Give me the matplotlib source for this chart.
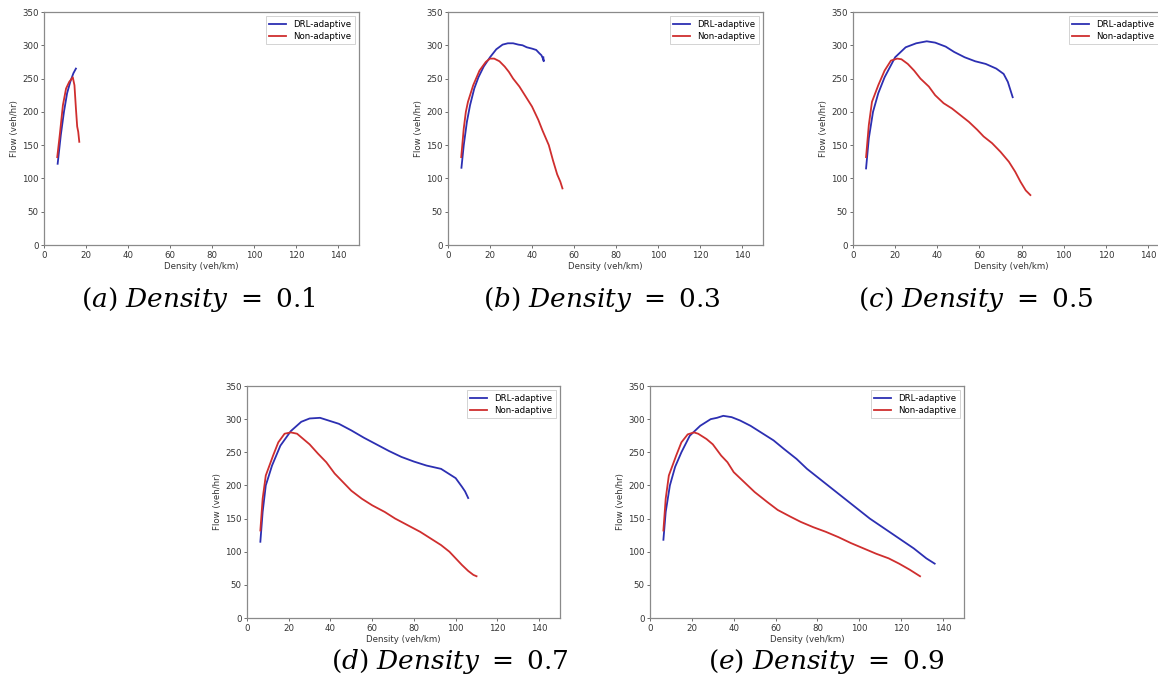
import matplotlib
matplotlib.use("Agg")
import matplotlib.pyplot as plt

plt.rcParams['mathtext.fontset'] = 'dejavuserif'

# ---- data ----
a_drl_x = [6.5, 8.0, 9.5, 11.0, 12.5, 14.0, 15.2]
a_drl_y = [122, 165, 200, 228, 245, 258, 265]
a_non_x = [6.3, 7.5, 9.0, 10.5, 12.0, 13.7, 14.5, 15.2, 15.8, 16.3, 16.8]
a_non_y = [132, 165, 210, 235, 245, 252, 240, 205, 178, 170, 155]

b_drl_x = [6.4, 7.5, 9.0, 10.5, 12.5, 14.5, 17.0, 20.0, 23.0, 26.0, 28.5, 31.0, 33.5, 35.5, 37.5, 40.0, 42.0, 43.5, 44.5, 45.2, 45.6, 45.4]
b_drl_y = [116, 150, 185, 210, 235, 252, 268, 282, 294, 301, 303, 303, 301, 300, 297, 295, 293, 288, 285, 280, 276, 282]
b_non_x = [6.3, 7.5, 8.5, 9.5, 12.0, 15.0, 18.0, 20.0, 22.0, 24.5, 27.0, 29.0, 31.0, 34.0, 37.0, 40.0, 43.0, 45.0, 48.0, 50.0, 52.0, 53.5, 54.5]
b_non_y = [132, 175, 200, 215, 240, 262, 275, 280, 280, 276, 268, 260, 250, 238, 223, 208, 188, 172, 150, 127, 106, 95, 85]

c_drl_x = [6.2, 7.5, 9.5, 12.0, 15.0, 20.0, 25.0, 30.0, 35.0, 39.0, 44.0, 48.0, 53.0, 58.0, 63.0, 68.0, 71.5, 73.5, 75.0, 75.8]
c_drl_y = [115, 160, 200, 228, 252, 282, 297, 303, 306, 304, 298, 290, 282, 276, 272, 265, 257, 245, 230, 222]
c_non_x = [6.2, 7.5, 9.0, 12.0, 15.0, 18.0, 21.0, 23.0, 26.0, 29.0, 32.0, 36.0, 39.0, 43.0, 47.0, 51.0, 55.0, 59.0, 62.0, 66.0, 70.0, 74.0, 77.0, 79.5, 82.0, 84.2]
c_non_y = [132, 180, 215, 240, 262, 277, 280, 279, 272, 262, 250, 238, 225, 213, 205, 195, 185, 173, 163, 153, 140, 125, 110, 95, 82, 75]

d_drl_x = [6.4, 7.5, 9.0, 12.0, 16.0, 21.0, 26.0, 30.0, 35.0, 39.0, 44.0, 50.0, 56.0, 62.0, 68.0, 74.0, 80.0, 86.0, 93.0, 98.0, 100.0, 103.0, 104.5, 106.0]
d_drl_y = [115, 160, 200, 230, 260, 282, 296, 301, 302, 298, 293, 283, 272, 262, 252, 243, 236, 230, 225, 215, 211, 198, 191, 181]
d_non_x = [6.4, 7.5, 9.0, 12.5, 15.0, 18.0, 21.0, 24.0, 27.0, 30.0, 34.0, 38.0, 42.0, 46.0, 50.0, 55.0, 60.0, 66.0, 71.0, 77.0, 83.0, 88.0, 93.0, 97.0, 100.0, 103.0, 106.0, 108.5, 110.0]
d_non_y = [132, 180, 215, 245, 265, 278, 280, 278, 270, 262, 248, 235, 218, 205, 192, 180, 170, 160, 150, 140, 130, 120, 110, 100, 90, 80, 71, 65, 63]

e_drl_x = [6.4, 7.5, 9.5, 12.0, 15.0, 19.0, 24.0, 29.0, 32.0, 35.0, 39.0, 43.0, 48.0, 53.0, 59.0, 64.0, 70.0, 75.0, 81.0, 87.0, 93.0, 99.0, 105.0, 112.0, 119.0, 126.0, 132.0, 136.0]
e_drl_y = [118, 160, 200, 228, 250, 275, 290, 300, 302, 305, 303, 298, 290, 280, 268, 255, 240, 225, 210, 195, 180, 165, 150, 135, 120, 105, 90, 82]
e_non_x = [6.4, 7.5, 9.0, 12.5, 15.0, 18.0, 21.0, 23.0, 27.0, 30.0, 34.0, 37.0, 40.0, 45.0, 50.0, 56.0, 61.0, 67.0, 72.0, 78.0, 84.0, 90.0, 96.0, 102.0, 108.0, 114.0, 119.0, 124.0, 129.0]
e_non_y = [132, 180, 215, 245, 265, 277, 280, 278, 270, 262, 245, 235, 220, 205, 190, 175, 163, 153, 145, 137, 130, 122, 113, 105, 97, 90, 82, 73, 63]

captions = [r"$(a)\ Density\ =\ 0.1$", r"$(b)\ Density\ =\ 0.3$", r"$(c)\ Density\ =\ 0.5$",
            r"$(d)\ Density\ =\ 0.7$", r"$(e)\ Density\ =\ 0.9$"]
series = [(a_drl_x, a_drl_y, a_non_x, a_non_y),
          (b_drl_x, b_drl_y, b_non_x, b_non_y),
          (c_drl_x, c_drl_y, c_non_x, c_non_y),
          (d_drl_x, d_drl_y, d_non_x, d_non_y),
          (e_drl_x, e_drl_y, e_non_x, e_non_y)]

W, H = 1158, 692
fig = plt.figure(figsize=(W / 100, H / 100), dpi=100)

# pixel boxes: left, right, top, bottom
boxes = [(44, 359, 12, 245), (448, 763, 12, 245), (853, 1169, 12, 245),
         (247, 560, 386, 618), (650, 964, 386, 618)]
cap_pos = [(198, 300), (602, 300), (976, 300), (450, 662), (826, 662)]

BLUE = '#2c2fb2'
RED = '#cf2e2e'
FS = 6.2

for i, ((l, r, t, b), (dx, dy, nx, ny), cap, (cx, cy)) in enumerate(zip(boxes, series, captions, cap_pos)):
    ax = fig.add_axes([l / W, 1 - b / H, (r - l) / W, (b - t) / H])
    ax.plot(dx, dy, color=BLUE, lw=1.3, label='DRL-adaptive')
    ax.plot(nx, ny, color=RED, lw=1.3, label='Non-adaptive')
    ax.set_xlim(0, 150)
    ax.set_ylim(0, 350)
    ax.set_xticks([0, 20, 40, 60, 80, 100, 120, 140])
    ax.set_yticks([0, 50, 100, 150, 200, 250, 300, 350])
    ax.tick_params(labelsize=FS, length=2.5, width=0.6, colors='#555555', labelcolor='#333333', pad=1.5)
    for s in ax.spines.values():
        s.set_color('#8a8a8a')
        s.set_linewidth(0.9)
    ax.set_xlabel('Density (veh/km)', fontsize=FS, color='#333333', labelpad=1.5)
    ax.set_ylabel('Flow (veh/hr)', fontsize=FS, color='#333333', labelpad=2)
    anchor = (1.0, 1.0) if i != 2 else (1.0 - 7.0 / (r - l), 1.0)
    leg = ax.legend(loc='upper right', bbox_to_anchor=anchor, fontsize=FS, handlelength=2.0,
                    borderpad=0.4, labelspacing=0.35, framealpha=1.0, fancybox=False)
    leg.get_frame().set_edgecolor('#cccccc')
    leg.get_frame().set_linewidth(0.6)
    fig.text(cx / W, 1 - cy / H, cap, fontsize=19, ha='center', va='center', color='black')

fig.savefig('out.png', dpi=100)
